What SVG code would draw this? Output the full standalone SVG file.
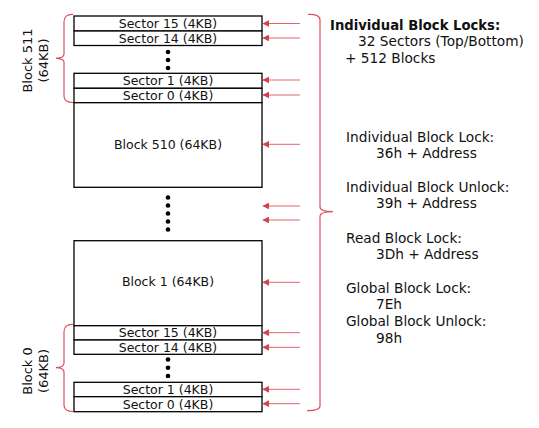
<svg xmlns="http://www.w3.org/2000/svg" width="539" height="428" viewBox="0 0 539 428">
<defs>
<style>
.box{fill:#fff;stroke:#000;stroke-width:1.3}
.t{font-family:"DejaVu Sans",Verdana,sans-serif;font-size:13.7px;fill:#111}
.bt{font-family:"DejaVu Sans",Verdana,sans-serif;font-size:12.5px;fill:#111;text-anchor:middle}
.lt{font-family:"DejaVu Sans",Verdana,sans-serif;font-size:13px;fill:#111;text-anchor:middle}
.arr{stroke:#e06670;stroke-width:1;fill:none;marker-end:url(#ah)}
.brace{stroke:#d9505c;stroke-width:1.2;fill:none}
.dot{fill:#000}
</style>
<marker id="ah" viewBox="0 0 10 10" refX="9" refY="5" markerWidth="7" markerHeight="7" markerUnits="userSpaceOnUse" orient="auto">
<path d="M0,0 L10,5 L0,10 z" fill="#d4404c"/>
</marker>
</defs>
<rect width="539" height="428" fill="#fff"/>
<g id="sec15-top"><rect class="box" x="74" y="16" width="188" height="15"/><text class="bt" x="168" y="28">Sector 15 (4KB)</text></g>
<g id="sec14-top"><rect class="box" x="74" y="31" width="188" height="14.5"/><text class="bt" x="168" y="42.5">Sector 14 (4KB)</text></g>
<g id="dots-top"><circle class="dot" cx="168" cy="52" r="2.3"/><circle class="dot" cx="168" cy="60" r="2.3"/><circle class="dot" cx="168" cy="68" r="2.3"/></g>
<g id="sec1-top"><rect class="box" x="74" y="73.3" width="188" height="15"/><text class="bt" x="168" y="85">Sector 1 (4KB)</text></g>
<g id="sec0-top"><rect class="box" x="74" y="88.3" width="188" height="14.4"/><text class="bt" x="168" y="99.5">Sector 0 (4KB)</text></g>
<g id="block510"><rect class="box" x="74" y="102.7" width="188" height="84.6"/><text class="bt" x="168" y="149">Block 510 (64KB)</text></g>
<g id="dots-mid"><circle class="dot" cx="168" cy="197.5" r="2.3"/><circle class="dot" cx="168" cy="205.5" r="2.3"/><circle class="dot" cx="168" cy="213.5" r="2.3"/><circle class="dot" cx="168" cy="221.5" r="2.3"/><circle class="dot" cx="168" cy="229.5" r="2.3"/></g>
<g id="block1"><rect class="box" x="74" y="240.7" width="188" height="85"/><text class="bt" x="168" y="286">Block 1 (64KB)</text></g>
<g id="sec15-bot"><rect class="box" x="74" y="325.7" width="188" height="14.3"/><text class="bt" x="168" y="337">Sector 15 (4KB)</text></g>
<g id="sec14-bot"><rect class="box" x="74" y="340" width="188" height="14.3"/><text class="bt" x="168" y="351.5">Sector 14 (4KB)</text></g>
<g id="dots-bot"><circle class="dot" cx="168" cy="359.5" r="2.3"/><circle class="dot" cx="168" cy="367.7" r="2.3"/><circle class="dot" cx="168" cy="376" r="2.3"/></g>
<g id="sec1-bot"><rect class="box" x="74" y="382.3" width="188" height="14.4"/><text class="bt" x="168" y="393.8">Sector 1 (4KB)</text></g>
<g id="sec0-bot"><rect class="box" x="74" y="396.7" width="188" height="15"/><text class="bt" x="168" y="408.5">Sector 0 (4KB)</text></g>
<g id="label-block511"><text class="lt" transform="translate(31.5,60.5) rotate(-90)">Block 511</text><text class="lt" transform="translate(47.5,60.5) rotate(-90)">(64KB)</text></g>
<g id="label-block0"><text class="lt" transform="translate(31.5,371) rotate(-90)">Block 0</text><text class="lt" transform="translate(47.5,371) rotate(-90)">(64KB)</text></g>
<g id="text-panel">
<text class="t" x="330" y="29.5" style="font-weight:bold;font-size:13.2px">Individual Block Locks:</text>
<text class="t" x="358" y="46">32 Sectors (Top/Bottom)</text>
<text class="t" x="345" y="63">+ 512 Blocks</text>
<text class="t" x="346" y="141.5">Individual Block Lock:</text>
<text class="t" x="376" y="157.5">36h + Address</text>
<text class="t" x="346" y="191.5">Individual Block Unlock:</text>
<text class="t" x="376" y="207.5">39h + Address</text>
<text class="t" x="346" y="242.5">Read Block Lock:</text>
<text class="t" x="376" y="259">3Dh + Address</text>
<text class="t" x="346" y="292.5">Global Block Lock:</text>
<text class="t" x="376" y="309">7Eh</text>
<text class="t" x="346" y="326">Global Block Unlock:</text>
<text class="t" x="376" y="342.5">98h</text>
</g>
<g id="connectors">
<path class="brace" d="M73,14.5 Q64,14 64,22 L64,54 Q64,58 56,58.3 Q64,58.6 64,62 L64,96 Q64,102.5 73,102.5"/>
<path class="brace" d="M73,324.5 Q64,324 64,332 L64,363 Q64,367.5 56,367.7 Q64,368 64,372 L64,405 Q64,411.5 73,411.5"/>
<path class="brace" d="M308,14.5 Q320,14 320,20 L320,207 Q320,211.5 333,211.7 Q320,212 320,216 L320,406 Q320,410.5 307,410.7"/>
<line class="arr" x1="300" y1="23.5" x2="263" y2="23.5"/>
<line class="arr" x1="300" y1="38" x2="263" y2="38"/>
<line class="arr" x1="300" y1="80" x2="263" y2="80"/>
<line class="arr" x1="300" y1="95" x2="263" y2="95"/>
<line class="arr" x1="300" y1="144.3" x2="263" y2="144.3"/>
<line class="arr" x1="300" y1="206" x2="263" y2="206"/>
<line class="arr" x1="300" y1="220" x2="263" y2="220"/>
<line class="arr" x1="300" y1="282.3" x2="263" y2="282.3"/>
<line class="arr" x1="300" y1="332.7" x2="263" y2="332.7"/>
<line class="arr" x1="300" y1="347.3" x2="263" y2="347.3"/>
<line class="arr" x1="300" y1="389.3" x2="263" y2="389.3"/>
<line class="arr" x1="300" y1="403.7" x2="263" y2="403.7"/>
</g>
</svg>
